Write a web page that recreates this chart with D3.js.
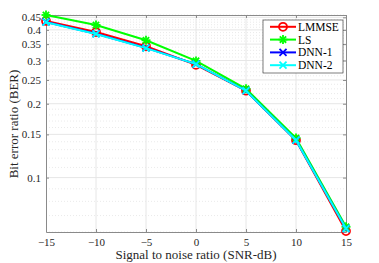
<!DOCTYPE html>
<html>
<head>
<meta charset="utf-8">
<script src="https://cdn.jsdelivr.net/npm/d3@7"></script>
<style>
body { margin: 0; background: #fff; }
text { font-family: "Liberation Serif", "DejaVu Serif", serif; }
</style>
</head>
<body>
<div id="chart"></div>
<script>
const snr = [-15, -10, -5, 0, 5, 10, 15];
const lmmse = [0.435, 0.392, 0.343, 0.288, 0.226, 0.142, 0.0605];
const ls = [0.46, 0.419, 0.363, 0.299, 0.230, 0.145, 0.063];
const dnn1 = [0.431, 0.386, 0.338, 0.290, 0.226, 0.142, 0.062];
const dnn2 = [0.430, 0.385, 0.337, 0.290, 0.226, 0.142, 0.062];
const xTicks = [-15, -10, -5, 0, 5, 10, 15];
const yTicks = [0.1, 0.15, 0.2, 0.25, 0.3, 0.35, 0.4, 0.45];
const yTickLabels = ["0.1", "0.15", "0.2", "0.25", "0.3", "0.35", "0.4", "0.45"];
const seriesNames = ["LMMSE", "LS", "DNN-1", "DNN-2"];

const W = 379, H = 263;
const mLeft = 46, mRight = 346, mTop = 15, mBottom = 232;

const svg = d3.select("#chart").append("svg").attr("width", W).attr("height", H);
const x = d3.scaleLinear().domain([-15, 15]).range([mLeft, mRight]);
const y = d3.scaleLog().domain([0.06, 0.46]).range([mBottom, mTop]);

// minor grid
const minor = d3.range(6, 47).map(d => d / 100).filter(v => !yTicks.some(t => Math.abs(t - v) < 1e-9));
svg.append("g").selectAll("line").data(minor).join("line")
  .attr("x1", mLeft).attr("x2", mRight)
  .attr("y1", d => y(d)).attr("y2", d => y(d))
  .attr("stroke", "#e4e4e4").attr("stroke-width", 0.8).attr("stroke-dasharray", "1,2");

// major grid
svg.append("g").selectAll("line").data(yTicks).join("line")
  .attr("x1", mLeft).attr("x2", mRight)
  .attr("y1", d => y(d)).attr("y2", d => y(d))
  .attr("stroke", "#e6e6e6").attr("stroke-width", 1);
svg.append("g").selectAll("line").data(xTicks.slice(1, -1)).join("line")
  .attr("x1", d => x(d)).attr("x2", d => x(d))
  .attr("y1", mTop).attr("y2", mBottom)
  .attr("stroke", "#e6e6e6").attr("stroke-width", 1);

// axes
svg.append("g").attr("transform", `translate(0,${mBottom})`)
  .call(d3.axisBottom(x).tickValues(xTicks).tickSizeInner(-3).tickSizeOuter(0).tickPadding(6));
svg.append("g").attr("transform", `translate(${mLeft},0)`)
  .call(d3.axisLeft(y).tickValues(yTicks).tickFormat((d, i) => yTickLabels[i]).tickSizeInner(-3).tickSizeOuter(0).tickPadding(5));
svg.append("g").attr("transform", `translate(0,${mTop})`)
  .call(d3.axisTop(x).tickValues(xTicks).tickSizeInner(-3).tickSizeOuter(0).tickFormat(""));
svg.append("g").attr("transform", `translate(${mRight},0)`)
  .call(d3.axisRight(y).tickValues(yTicks).tickSizeInner(-3).tickSizeOuter(0).tickFormat(""));
svg.selectAll(".domain, .tick line").attr("stroke", "#8a8a8a");
svg.selectAll(".tick text").attr("fill", "#262626").style("font-size", "11px");

// lines
const colors = ["#ff0000", "#00ff00", "#0000ff", "#00ffff"];
const data = [lmmse, ls, dnn1, dnn2];
const line = d3.line().x((d, i) => x(snr[i])).y(d => y(d));

function drawMarker(g, k, cx, cy) {
  if (k === 0) {
    g.append("circle").attr("cx", cx).attr("cy", cy).attr("r", 4)
      .attr("fill", "none").attr("stroke", colors[k]).attr("stroke-width", 1.8);
  } else if (k === 1) {
    const s = 4.5;
    [[-s, 0, s, 0], [0, -s, 0, s], [-s * 0.7, -s * 0.7, s * 0.7, s * 0.7], [-s * 0.7, s * 0.7, s * 0.7, -s * 0.7]].forEach(p => {
      g.append("line").attr("x1", cx + p[0]).attr("y1", cy + p[1]).attr("x2", cx + p[2]).attr("y2", cy + p[3])
        .attr("stroke", colors[k]).attr("stroke-width", 1.8);
    });
  } else {
    const s = 3.5;
    [[-s, -s, s, s], [-s, s, s, -s]].forEach(p => {
      g.append("line").attr("x1", cx + p[0]).attr("y1", cy + p[1]).attr("x2", cx + p[2]).attr("y2", cy + p[3])
        .attr("stroke", colors[k]).attr("stroke-width", 1.8);
    });
  }
}

data.forEach((vals, k) => {
  const g = svg.append("g");
  g.append("path").datum(vals).attr("d", line)
    .attr("fill", "none").attr("stroke", colors[k]).attr("stroke-width", 2);
  vals.forEach((v, i) => drawMarker(g, k, x(snr[i]), y(v)));
});

// axis labels
svg.append("text").attr("x", 196).attr("y", 259).attr("text-anchor", "middle")
  .attr("fill", "#262626").style("font-size", "13px").text("Signal to noise ratio (SNR-dB)");
svg.append("text").attr("transform", "translate(18,124) rotate(-90)").attr("text-anchor", "middle")
  .attr("fill", "#262626").style("font-size", "13px").text("Bit error ratio (BER)");

// legend
const lg = svg.append("g");
lg.append("rect").attr("x", 263).attr("y", 20).attr("width", 80).attr("height", 53)
  .attr("fill", "#fff").attr("stroke", "#262626").attr("stroke-width", 0.6);
seriesNames.forEach((name, k) => {
  const ly = 26.8 + k * 12.8;
  lg.append("line").attr("x1", 270).attr("x2", 296).attr("y1", ly).attr("y2", ly)
    .attr("stroke", colors[k]).attr("stroke-width", 2);
  drawMarker(lg, k, 283, ly);
  lg.append("text").attr("x", 298).attr("y", ly + 4).attr("fill", "#000")
    .style("font-size", "11.5px").text(name);
});
</script>
</body>
</html>
